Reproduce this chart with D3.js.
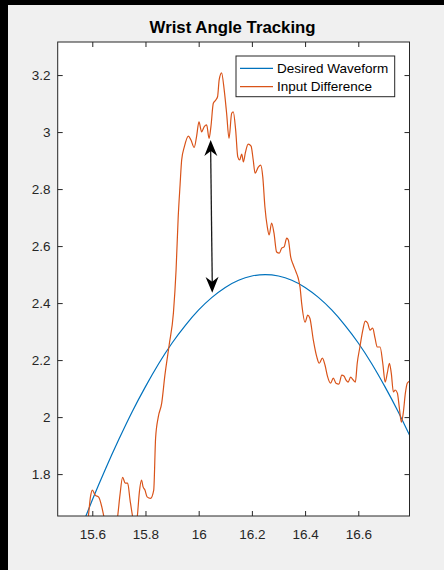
<!DOCTYPE html>
<html>
<head>
<meta charset="utf-8">
<script src="https://cdn.jsdelivr.net/npm/d3@7"></script>
<style>
  html, body { margin: 0; padding: 0; background: #000; }
  svg { display: block; }
</style>
</head>
<body>
<svg id="chart" width="444" height="570"></svg>
<script>
// values
const seriesNames = ["Desired Waveform", "Input Difference"];
const seriesColors = ["#0072BD", "#D95319"];

const desiredX = [15.55, 15.60, 15.65, 15.70, 15.75, 15.80, 15.85, 15.90, 15.95, 16.00, 16.05, 16.10, 16.15, 16.20, 16.25,
  16.30, 16.35, 16.40, 16.45, 16.50, 16.55, 16.60, 16.65, 16.70, 16.75, 16.80];
const desiredY = [1.592, 1.709, 1.819, 1.922, 2.019, 2.107, 2.188, 2.260, 2.322, 2.376, 2.420, 2.455, 2.480, 2.495, 2.500,
  2.495, 2.480, 2.455, 2.420, 2.376, 2.322, 2.260, 2.188, 2.107, 2.019, 1.922];

const inputX = [15.471, 15.535, 15.576, 15.585, 15.593, 15.600, 15.611, 15.624, 15.636, 15.644, 15.659, 15.678, 15.695,
  15.704, 15.714, 15.724, 15.733, 15.742, 15.752, 15.761, 15.769, 15.777, 15.785, 15.791, 15.798, 15.806, 15.819, 15.831,
  15.838, 15.848, 15.861, 15.873, 15.889, 15.905, 15.915, 15.923, 15.930, 15.936, 15.946, 15.961, 15.971, 15.983, 15.992,
  16.001, 16.011, 16.021, 16.030, 16.039, 16.046, 16.055, 16.064, 16.071, 16.077, 16.086, 16.096, 16.105, 16.114, 16.124,
  16.130, 16.139, 16.147, 16.154, 16.162, 16.168, 16.176, 16.186, 16.197, 16.205, 16.212, 16.224, 16.233, 16.241, 16.249,
  16.258, 16.265, 16.274, 16.283, 16.293, 16.303, 16.312, 16.321, 16.331, 16.337, 16.346, 16.356, 16.366, 16.374, 16.381,
  16.387, 16.400, 16.410, 16.418, 16.431, 16.444, 16.453, 16.465, 16.475, 16.484, 16.496, 16.506, 16.516, 16.527, 16.538,
  16.546, 16.554, 16.562, 16.571, 16.581, 16.589, 16.596, 16.606, 16.617, 16.626, 16.635, 16.644, 16.654, 16.663, 16.671,
  16.682, 16.692, 16.701, 16.709, 16.717, 16.724, 16.732, 16.739, 16.747, 16.754, 16.762, 16.769, 16.777, 16.784, 16.792];
const inputY = [1.551, 1.568, 1.603, 1.650, 1.719, 1.744, 1.726, 1.719, 1.684, 1.649, 1.586, 1.586, 1.649,
  1.726, 1.789, 1.768, 1.768, 1.709, 1.649, 1.611, 1.649, 1.737, 1.779, 1.755, 1.744, 1.720, 1.715, 1.744,
  1.926, 2.000, 2.049, 2.147, 2.253, 2.365, 2.516, 2.702, 2.814, 2.902, 2.948, 2.986, 2.972, 2.946, 2.984,
  3.036, 3.001, 3.019, 3.025, 2.978, 3.019, 3.101, 3.112, 3.124, 3.183, 3.208, 3.147, 3.066, 2.978, 3.066,
  3.071, 3.007, 2.913, 2.902, 2.923, 2.895, 2.930, 2.958, 2.951, 2.902, 2.856, 2.877, 2.884, 2.842, 2.737,
  2.667, 2.639, 2.681, 2.646, 2.579, 2.575, 2.593, 2.597, 2.628, 2.621, 2.561, 2.533, 2.509, 2.488, 2.456,
  2.400, 2.333, 2.358, 2.347, 2.270, 2.211, 2.189, 2.207, 2.182, 2.144, 2.119, 2.137, 2.119, 2.116, 2.147,
  2.144, 2.130, 2.123, 2.140, 2.130, 2.123, 2.189, 2.246, 2.305, 2.337, 2.330, 2.305, 2.312, 2.277, 2.246,
  2.246, 2.189, 2.123, 2.154, 2.189, 2.154, 2.088, 2.095, 2.084, 2.035, 1.982, 2.014, 2.084, 2.119, 2.126];

const xTicks = [15.6, 15.8, 16, 16.2, 16.4, 16.6];
const yTicks = [1.8, 2, 2.2, 2.4, 2.6, 2.8, 3, 3.2];
const xLimits = [15.47, 16.7925];
const yLimits = [1.653, 3.316];

// double arrow annotation (data units)
const arrowX = [16.045, 16.051];
const arrowY = [2.972, 2.436];

const titleText = "Wrist Angle Tracking";

class TrackingChart {
  constructor(el) {
    this.svg = d3.select(el);
    this.width = 444;
    this.height = 570;
    this.box = { left: 57.7, right: 409.5, top: 42, bottom: 516 };
    this.font = "'Liberation Sans', Arial, Helvetica, sans-serif";
    this.axisColor = "#262626";
    this.init();
  }

  init() {
    this.x = d3.scaleLinear().domain(xLimits).range([this.box.left, this.box.right]);
    this.y = d3.scaleLinear().domain(yLimits).range([this.box.bottom, this.box.top]);
    this.addBackground();
    this.addLines();
    this.addArrow();
    this.addAxes();
    this.addTitle();
    this.addLegend();
  }

  addBackground() {
    this.svg.append("rect").attr("width", this.width).attr("height", this.height).attr("fill", "#000");
    this.svg.append("rect").attr("x", 8).attr("y", 5)
      .attr("width", this.width - 8).attr("height", this.height - 5).attr("fill", "#f0f0f0");
    this.svg.append("rect")
      .attr("x", this.box.left).attr("y", this.box.top)
      .attr("width", this.box.right - this.box.left).attr("height", this.box.bottom - this.box.top)
      .attr("fill", "#fff");
    this.svg.append("clipPath").attr("id", "plotClip")
      .append("rect")
      .attr("x", this.box.left).attr("y", this.box.top)
      .attr("width", this.box.right - this.box.left).attr("height", this.box.bottom - this.box.top);
  }

  addLines() {
    const g = this.svg.append("g").attr("clip-path", "url(#plotClip)");
    const desired = desiredX.map((v, i) => [v, desiredY[i]]);
    const input = inputX.map((v, i) => [v, inputY[i]]);

    g.append("path")
      .attr("d", d3.line().x(d => this.x(d[0])).y(d => this.y(d[1])).curve(d3.curveNatural)(desired))
      .attr("fill", "none").attr("stroke", seriesColors[0]).attr("stroke-width", 1.2);

    g.append("path")
      .attr("d", d3.line().x(d => this.x(d[0])).y(d => this.y(d[1])).curve(d3.curveMonotoneX)(input))
      .attr("fill", "none").attr("stroke", seriesColors[1]).attr("stroke-width", 1.2)
      .attr("stroke-linejoin", "round");
  }

  addArrow() {
    const x1 = this.x(arrowX[0]), y1 = this.y(arrowY[0]);
    const x2 = this.x(arrowX[1]), y2 = this.y(arrowY[1]);
    const ang = Math.atan2(y2 - y1, x2 - x1);
    const g = this.svg.append("g");
    g.append("line")
      .attr("x1", x1).attr("y1", y1 + 10).attr("x2", x2).attr("y2", y2 - 10)
      .attr("stroke", "#1a1a1a").attr("stroke-width", 1.3);
    // vback2 style heads
    const head = "M0,0 L-16,-6.5 L-11,0 L-16,6.5 Z";
    g.append("path").attr("d", head).attr("fill", "#000")
      .attr("transform", `translate(${x2},${y2}) rotate(${ang * 180 / Math.PI})`);
    g.append("path").attr("d", head).attr("fill", "#000")
      .attr("transform", `translate(${x1},${y1}) rotate(${ang * 180 / Math.PI + 180})`);
  }

  addAxes() {
    const fmt = d3.format("~g");
    const style = (sel) => {
      sel.select(".domain").remove();
      sel.selectAll("line").attr("stroke", this.axisColor);
      sel.selectAll("text").attr("fill", this.axisColor)
        .style("font-family", this.font).style("font-size", "13.5px");
    };

    this.svg.append("g")
      .attr("transform", `translate(0,${this.box.bottom})`)
      .call(d3.axisBottom(this.x).tickValues(xTicks).tickFormat(fmt).tickSizeInner(-5).tickSizeOuter(0).tickPadding(13.4))
      .call(style);
    this.svg.append("g")
      .attr("transform", `translate(0,${this.box.top})`)
      .call(d3.axisTop(this.x).tickValues(xTicks).tickFormat("").tickSizeInner(-5).tickSizeOuter(0))
      .call(style);
    this.svg.append("g")
      .attr("transform", `translate(${this.box.left},0)`)
      .call(d3.axisLeft(this.y).tickValues(yTicks).tickFormat(fmt).tickSizeInner(-5).tickSizeOuter(0).tickPadding(7.2))
      .call(style);
    this.svg.append("g")
      .attr("transform", `translate(${this.box.right},0)`)
      .call(d3.axisRight(this.y).tickValues(yTicks).tickFormat("").tickSizeInner(-5).tickSizeOuter(0))
      .call(style);

    this.svg.append("rect")
      .attr("x", this.box.left).attr("y", this.box.top)
      .attr("width", this.box.right - this.box.left).attr("height", this.box.bottom - this.box.top)
      .attr("fill", "none").attr("stroke", this.axisColor).attr("stroke-width", 1);
  }

  addTitle() {
    this.svg.append("text")
      .attr("x", (this.box.left + this.box.right) / 2 - 1)
      .attr("y", 33)
      .attr("text-anchor", "middle")
      .attr("fill", "#000")
      .style("font-family", this.font).style("font-size", "16.8px").style("font-weight", "bold")
      .text(titleText);
  }

  addLegend() {
    const g = this.svg.append("g").attr("transform", "translate(236,56)");
    g.append("rect").attr("width", 158.7).attr("height", 40.7)
      .attr("fill", "#fff").attr("stroke", this.axisColor).attr("stroke-width", 1);
    const items = g.selectAll("g.item").data(seriesNames).enter().append("g")
      .attr("class", "item")
      .attr("transform", (d, i) => `translate(0,${12.3 + i * 18.4})`);
    items.append("line").attr("x1", 4).attr("x2", 37)
      .attr("stroke", (d, i) => seriesColors[i]).attr("stroke-width", 1.2);
    items.append("text").attr("x", 41).attr("dy", "0.35em")
      .attr("fill", "#000")
      .style("font-family", this.font).style("font-size", "13.5px")
      .text(d => d);
  }
}

new TrackingChart("#chart");
</script>
</body>
</html>
